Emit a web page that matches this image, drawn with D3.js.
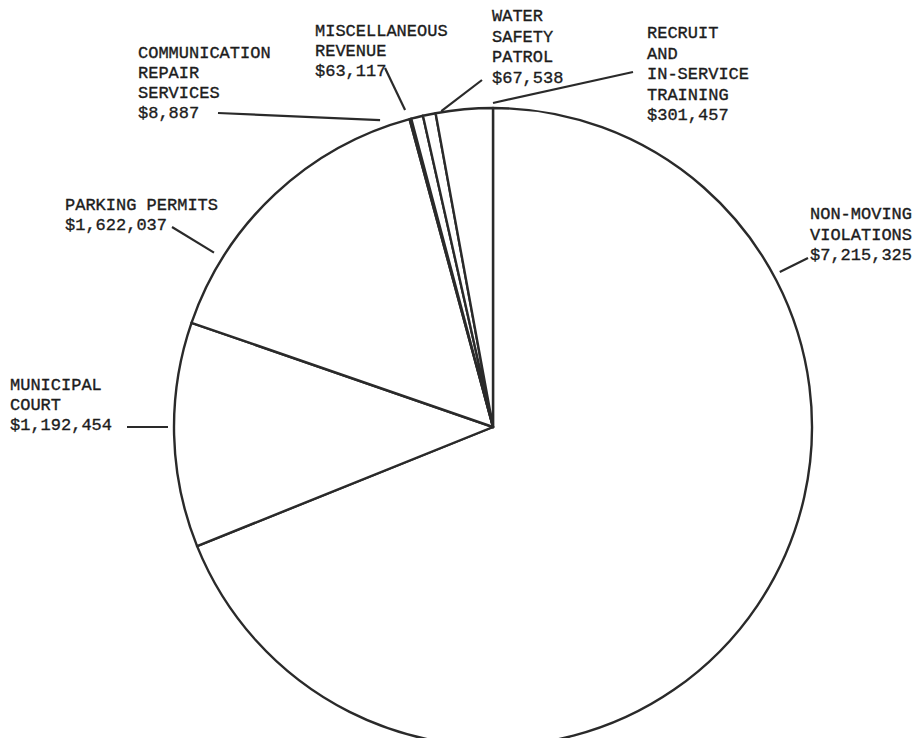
<!DOCTYPE html>
<html>
<head>
<meta charset="utf-8">
<script src="https://cdn.jsdelivr.net/npm/d3@7"></script>
<style>
  html, body { margin: 0; padding: 0; background: #fff; }
  svg { display: block; }
  .lbl { font-family: "Liberation Mono", "DejaVu Sans Mono", monospace; font-size: 17px; fill: #1c1c1c; stroke: #1c1c1c; stroke-width: 0.35; }
</style>
</head>
<body>
<svg id="chart" width="922" height="738"></svg>
<script>
// slices, clockwise from 12 o'clock
const categories = [
  'NON-MOVING VIOLATIONS',
  'MUNICIPAL COURT',
  'PARKING PERMITS',
  'COMMUNICATION REPAIR SERVICES',
  'MISCELLANEOUS REVENUE',
  'WATER SAFETY PATROL',
  'RECRUIT AND IN-SERVICE TRAINING'
];
const values = [7215325, 1192454, 1622037, 8887, 63117, 67538, 301457];
const labelLines = [
  ['NON-MOVING', 'VIOLATIONS'],
  ['MUNICIPAL', 'COURT'],
  ['PARKING PERMITS'],
  ['COMMUNICATION', 'REPAIR', 'SERVICES'],
  ['MISCELLANEOUS', 'REVENUE'],
  ['WATER', 'SAFETY', 'PATROL'],
  ['RECRUIT', 'AND', 'IN-SERVICE', 'TRAINING']
];

// label placement: text block (x, first baseline, line step), leader outer end,
// and leader inner end as an angle (deg, clockwise from top) just outside the rim
const labelLayout = [
  { x: 810, y: 219, step: 20.5, lx: 808, ly: 258, ang: 61.6, off: 7 },
  { x: 10,  y: 390, step: 20,   lx: 127, ly: 427, ang: 270,  off: 6 },
  { x: 65,  y: 210, step: 20,   lx: 172, ly: 227, ang: 302,  off: 10 },
  { x: 138, y: 58,  step: 20,   lx: 218, ly: 113, ang: 339.8, off: 8 },
  { x: 315, y: 36,  step: 20,   lx: 385, ly: 68,  ang: 344.5, off: 10 },
  { x: 492, y: 21,  step: 20.5, lx: 482, ly: 80,  ang: 350.7, off: 1 },
  { x: 647, y: 38,  step: 20.5, lx: 633, ly: 72,  ang: 0,     off: 5 }
];

const svg = d3.select('#chart');
const cx = 493, cy = 427, radius = 319;
const ink = '#2a2a2a';

const money = d3.format('$,');

const pie = d3.pie().sort(null).value(d => d)
    .startAngle(0).endAngle(2 * Math.PI);
const arcs = pie(values);
const arc = d3.arc().innerRadius(0).outerRadius(radius);

const g = svg.append('g')
    .attr('transform', 'translate(' + cx + ',' + cy + ')');

g.selectAll('path.slice')
    .data(arcs)
  .enter().append('path')
    .attr('class', 'slice')
    .attr('d', arc)
    .attr('fill', '#fff')
    .attr('stroke', ink)
    .attr('stroke-width', 2.4)
    .attr('stroke-linejoin', 'round');

// leader lines
labelLayout.forEach(function(p, i) {
  const a = p.ang * Math.PI / 180;
  const rr = radius + p.off;
  svg.append('line')
      .attr('x1', p.lx).attr('y1', p.ly)
      .attr('x2', cx + rr * Math.sin(a))
      .attr('y2', cy - rr * Math.cos(a))
      .attr('stroke', ink)
      .attr('stroke-width', 2.2);
});

// labels
labelLayout.forEach(function(p, i) {
  const lines = labelLines[i].concat([money(values[i])]);
  const t = svg.append('text').attr('class', 'lbl');
  lines.forEach(function(s, j) {
    t.append('tspan')
        .attr('x', p.x)
        .attr('y', p.y + j * p.step)
        .text(s);
  });
});
</script>
</body>
</html>
